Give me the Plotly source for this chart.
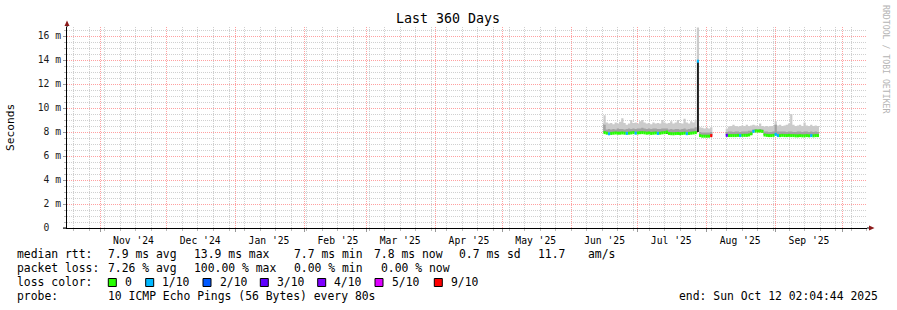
import plotly.graph_objects as go
import pandas as pd

# ---------------- data ----------------
end_time = pd.Timestamp("2025-10-12 02:04:44")
start_time = end_time - pd.Timedelta(days=360)

# segment 1 (daily samples, ms)
seg1_start = "2025-06-15 12:00"
seg1_median = [7.95, 7.90, 7.85, 7.88, 7.90, 7.92, 7.90, 7.90, 7.92, 7.90,
               7.88, 7.90, 7.92, 7.95, 7.90, 7.92, 7.94, 7.95, 7.93, 7.90,
               7.92, 7.88, 7.90, 7.92, 7.88, 7.90, 7.93, 7.95, 8.00, 7.88,
               7.86, 7.85, 7.87, 7.88, 7.86, 7.88, 7.90, 7.86, 7.88, 7.90,
               7.92, 7.95, 13.90, 7.70, 7.65, 7.65, 7.65, 7.65, 7.70]
seg1_mid = [8.60, 8.20, 8.25, 8.20, 8.25, 8.20, 8.30, 8.25, 8.25, 8.20,
            8.25, 8.30, 8.25, 8.30, 8.25, 8.30, 8.30, 8.35, 8.30, 8.25,
            8.30, 8.25, 8.30, 8.30, 8.25, 8.25, 8.30, 8.30, 8.30, 8.20,
            8.25, 8.20, 8.25, 8.25, 8.20, 8.25, 8.30, 8.20, 8.25, 8.30,
            8.30, 8.40, 13.90, 8.00, 7.95, 7.95, 7.95, 7.95, 8.00]
seg1_max = [9.40, 8.80, 8.70, 8.75, 8.65, 8.80, 8.70, 8.85, 9.15, 8.75,
            8.60, 8.70, 9.00, 8.75, 8.80, 8.70, 8.90, 9.00, 8.80, 8.70,
            8.75, 8.65, 8.80, 8.70, 8.75, 8.70, 9.00, 8.80, 8.70, 8.75,
            8.90, 8.70, 8.80, 9.00, 8.75, 8.70, 9.10, 8.80, 8.70, 8.90,
            8.80, 9.00, 16.70, 8.40, 8.35, 8.30, 8.35, 8.30, 8.40]
seg1_loss = [0, 0, 1, 0, 0, 0, 0, 0, 0, 0,
             1, 0, 0, 0, 1, 0, 0, 0, 0, 0,
             0, 0, 0, 0, 1, 0, 0, 0, 0, 0,
             0, 0, 0, 0, 0, 0, 0, 1, 0, 0,
             0, 0, 1, 0, 0, 0, 0, 0, 9]

# segment 2
seg2_start = "2025-08-09 12:00"
seg2_median = [7.72, 7.70, 7.70, 7.70, 7.70, 7.72, 7.70, 7.72, 7.72, 7.72,
               7.75, 7.85, 8.05, 8.08, 8.08, 8.08, 8.05, 7.75, 7.72, 7.70,
               7.70, 7.72, 7.80, 7.70, 7.70, 7.72, 7.70, 7.70, 7.72, 7.70,
               7.70, 7.68, 7.68, 7.70, 7.68, 7.68, 7.70, 7.68, 7.70, 7.68,
               7.70, 7.70]
seg2_mid = [8.00, 8.05, 8.05, 8.00, 8.05, 8.05, 8.00, 8.05, 8.05, 8.05,
            8.10, 8.10, 8.20, 8.25, 8.20, 8.25, 8.20, 8.05, 8.05, 8.00,
            8.00, 8.05, 8.60, 8.05, 8.05, 8.05, 8.05, 8.00, 8.05, 8.05,
            8.00, 8.00, 8.05, 8.05, 8.00, 8.05, 8.05, 8.00, 8.05, 8.00,
            8.05, 8.00]
seg2_max = [8.30, 8.45, 8.50, 8.60, 8.50, 8.45, 8.50, 8.55, 8.50, 8.60,
            8.50, 8.55, 8.60, 8.55, 8.50, 8.70, 8.50, 8.45, 8.50, 8.45,
            8.50, 8.50, 8.90, 8.55, 8.60, 8.50, 8.55, 8.60, 8.70, 9.50,
            8.60, 8.50, 8.55, 8.60, 8.50, 8.80, 8.55, 8.50, 8.60, 8.50,
            8.55, 8.50]
seg2_loss = [3, 0, 0, 0, 0, 0, 1, 0, 0, 0,
             0, 0, 1, 0, 0, 0, 0, 0, 0, 0,
             0, 0, 1, 1, 0, 0, 0, 0, 0, 0,
             0, 0, 0, 0, 0, 0, 0, 0, 1, 0,
             0, 0]

# dense (black) smoke cores
core_time = ["2025-06-16 00:00", "2025-07-14 00:00", "2025-07-28 00:00",
             "2025-08-21 00:00", "2025-09-01 00:00"]
core_low = [7.95, 7.85, 8.00, 7.75, 7.75]
core_high = [8.70, 8.10, 13.90, 8.10, 8.60]

loss_levels = [0, 1, 2, 3, 4, 5, 9]
loss_labels = ["0", "1/10", "2/10", "3/10", "4/10", "5/10", "9/10"]
loss_colors = ["#26ff00", "#00b8ff", "#0059ff", "#5e00ff", "#7e00ff", "#dd00ff", "#ff0000"]

y_tick_vals = [0, 2, 4, 6, 8, 10, 12, 14, 16]
y_minor_vals = [k * 0.5 for k in range(34) if k % 4 != 0]
month_starts = pd.date_range("2024-11-01", "2025-10-01", freq="MS")
month_labels = pd.date_range("2024-11-01", "2025-09-01", freq="MS") + pd.Timedelta(days=15)
week_lines = pd.date_range("2024-10-20", "2025-10-12", freq="7D")

stats_rtt = ["7.9 ms avg", "13.9 ms max", "7.7 ms min", "7.8 ms now", "0.7 ms sd", "11.7", "am/s"]
stats_loss = ["7.26 % avg", "100.00 % max", "0.00 % min", "0.00 % now"]
probe_text = "10 ICMP Echo Pings (56 Bytes) every 80s"
end_text = "end: Sun Oct 12 02:04:44 2025"

# ---------------- layout constants ----------------
W, H = 897, 310
PL, PR, PT, PB = 67, 30, 27, 82
PW, PH = W - PL - PR, H - PT - PB
FONT = "DejaVu Sans Mono"
MINOR_GRID = "#d0d0d0"
MAJOR_GRID = "#ffa0a0"


def px(xp):
    return (xp - PL) / PW


def py(yp):
    return (PT + PH - yp) / PH


fig = go.Figure()

segments = [(seg1_start, seg1_median, seg1_mid, seg1_max, seg1_loss),
            (seg2_start, seg2_median, seg2_mid, seg2_max, seg2_loss)]

for s0, med, mid, mx, loss in segments:
    n = len(med)
    t = pd.date_range(s0, periods=n + 1, freq="D")
    medc = med + [med[-1]]
    midc = mid + [mid[-1]]
    mxc = mx + [mx[-1]]
    common = dict(x=t, mode="lines", line=dict(width=0, shape="hv"), hoverinfo="skip", showlegend=False)
    fig.add_trace(go.Scatter(y=medc, **common))
    fig.add_trace(go.Scatter(y=mxc, fill="tonexty", fillcolor="#cbcbcb", **common))
    fig.add_trace(go.Scatter(y=medc, **common))
    fig.add_trace(go.Scatter(y=midc, fill="tonexty", fillcolor="#a2a2a2", **common))

# black dense cores
fig.add_trace(go.Bar(x=pd.to_datetime(core_time), y=[h - l for h, l in zip(core_high, core_low)],
                     base=core_low, width=0.9 * 86400000, marker=dict(color="#1e1e1e", line=dict(width=0)),
                     hoverinfo="skip", showlegend=False))

# median band coloured by loss
for lvl, col in zip(loss_levels, loss_colors):
    xs, ys = [], []
    for s0, med, mid, mx, loss in segments:
        t = pd.date_range(s0, periods=len(med) + 1, freq="D")
        for i, (m, l) in enumerate(zip(med, loss)):
            if l == lvl:
                xs += [t[i], t[i + 1], None]
                ys += [m, m, None]
    if xs:
        fig.add_trace(go.Scatter(x=xs, y=ys, mode="lines", line=dict(color=col, width=3),
                                 hoverinfo="skip", showlegend=False))

# invisible trace for label axis
fig.add_trace(go.Scatter(x=[start_time], y=[0], xaxis="x2", mode="markers",
                         marker=dict(opacity=0), hoverinfo="skip", showlegend=False))

fig.update_layout(
    width=W, height=H,
    margin=dict(l=PL, r=PR, t=PT, b=PB, pad=0),
    paper_bgcolor="white", plot_bgcolor="white",
    font=dict(family=FONT, color="black"),
    barmode="overlay",
    xaxis=dict(type="date", range=[start_time, end_time],
               tickmode="array", tickvals=month_starts, ticktext=[""] * len(month_starts),
               showgrid=True, gridcolor=MAJOR_GRID, griddash="1px,1px", gridwidth=1,
               ticks="outside", ticklen=3, tickcolor="#999",
               minor=dict(tickmode="array", tickvals=week_lines, showgrid=True,
                          gridcolor=MINOR_GRID, griddash="1px,1px", gridwidth=1,
                          ticks="outside", ticklen=2, tickcolor="#bbb"),
               showline=True, linecolor="black", linewidth=1, zeroline=False, fixedrange=True),
    xaxis2=dict(type="date", overlaying="x", matches="x", side="bottom", anchor="y",
                tickmode="array", tickvals=month_labels,
                ticktext=[d.strftime("%b '%y") for d in month_labels],
                tickfont=dict(family=FONT, size=9.7, color="black"),
                ticks="outside", ticklen=3, tickcolor="rgba(0,0,0,0)",
                showgrid=False, showline=False, zeroline=False),
    yaxis=dict(range=[0, 16.75], tickmode="array", tickvals=y_tick_vals,
               ticktext=["0\u00a0\u00a0"] + [f"{v} m" for v in y_tick_vals[1:]],
               tickfont=dict(family=FONT, size=9.7, color="#1a1a1a"),
               showgrid=True, gridcolor=MAJOR_GRID, griddash="1px,1px", gridwidth=1,
               ticks="outside", ticklen=3, tickcolor="#999",
               minor=dict(tickmode="array", tickvals=y_minor_vals, showgrid=True, gridcolor=MINOR_GRID,
                          griddash="1px,1px", gridwidth=1, ticks="outside", ticklen=2, tickcolor="#bbb"),
               showline=True, linecolor="black", linewidth=1, zeroline=False, fixedrange=True),
)

shapes = []
# axis extensions and arrows
shapes.append(dict(type="line", xref="paper", yref="paper", x0=px(67), x1=px(67), y0=1, y1=py(24),
                   line=dict(color="black", width=1)))
shapes.append(dict(type="line", xref="paper", yref="paper", x0=px(63), x1=px(67), y0=0, y1=0,
                   line=dict(color="black", width=1)))
shapes.append(dict(type="line", xref="paper", yref="paper", x0=1, x1=px(870), y0=0, y1=0,
                   line=dict(color="black", width=1)))
shapes.append(dict(type="path", xref="paper", yref="paper",
                   path=f"M {px(64.5)} {py(26)} L {px(69.5)} {py(26)} L {px(67)} {py(20.5)} Z",
                   fillcolor="#8b1a1a", line=dict(width=0)))
shapes.append(dict(type="path", xref="paper", yref="paper",
                   path=f"M {px(869)} {py(225.5)} L {px(869)} {py(230.5)} L {px(874.5)} {py(228)} Z",
                   fillcolor="#8b1a1a", line=dict(width=0)))

annotations = []


def txt(x, y, s, size=11.4, color="black", anchor="left", angle=0):
    annotations.append(dict(x=px(x), y=py(y), xref="paper", yref="paper", text=s, showarrow=False,
                            xanchor=anchor, yanchor="middle", textangle=angle, borderpad=0,
                            font=dict(family=FONT, size=size, color=color)))


txt(448, 19, "Last 360 Days", size=13.3, anchor="center")
txt(11, 127, "Seconds", size=11.2, anchor="center", angle=-90)
txt(886, 59, "RRDTOOL / TOBI OETIKER", size=8.2, color="#b4b4b4", anchor="center", angle=90)

row_y = [254.3, 268.3, 282.3, 296.3]
txt(16, row_y[0], "median rtt:")
for xpos, s in zip([107.3, 193.3, 293.3, 373.3, 458.3, 537.3, 586.7], stats_rtt):
    txt(xpos, row_y[0], s)
txt(16, row_y[1], "packet loss:")
for xpos, s in zip([107.3, 193.3, 293.3, 380.0], stats_loss):
    txt(xpos, row_y[1], s)
txt(16, row_y[2], "loss color:")
box_x = [108.3, 145.7, 203.0, 260.3, 317.7, 375.0, 434.3]
for bx, lab, col in zip(box_x, loss_labels, loss_colors):
    shapes.append(dict(type="rect", xref="paper", yref="paper", x0=px(bx), x1=px(bx + 8),
                       y0=py(286.5), y1=py(278.5), fillcolor=col, line=dict(color="black", width=1)))
    txt(bx + 15.5, row_y[2], lab)
txt(16, row_y[3], "probe:")
txt(107.3, row_y[3], probe_text)
txt(678.3, row_y[3], end_text)

fig.update_layout(shapes=shapes, annotations=annotations)
fig.write_html("out.html")
